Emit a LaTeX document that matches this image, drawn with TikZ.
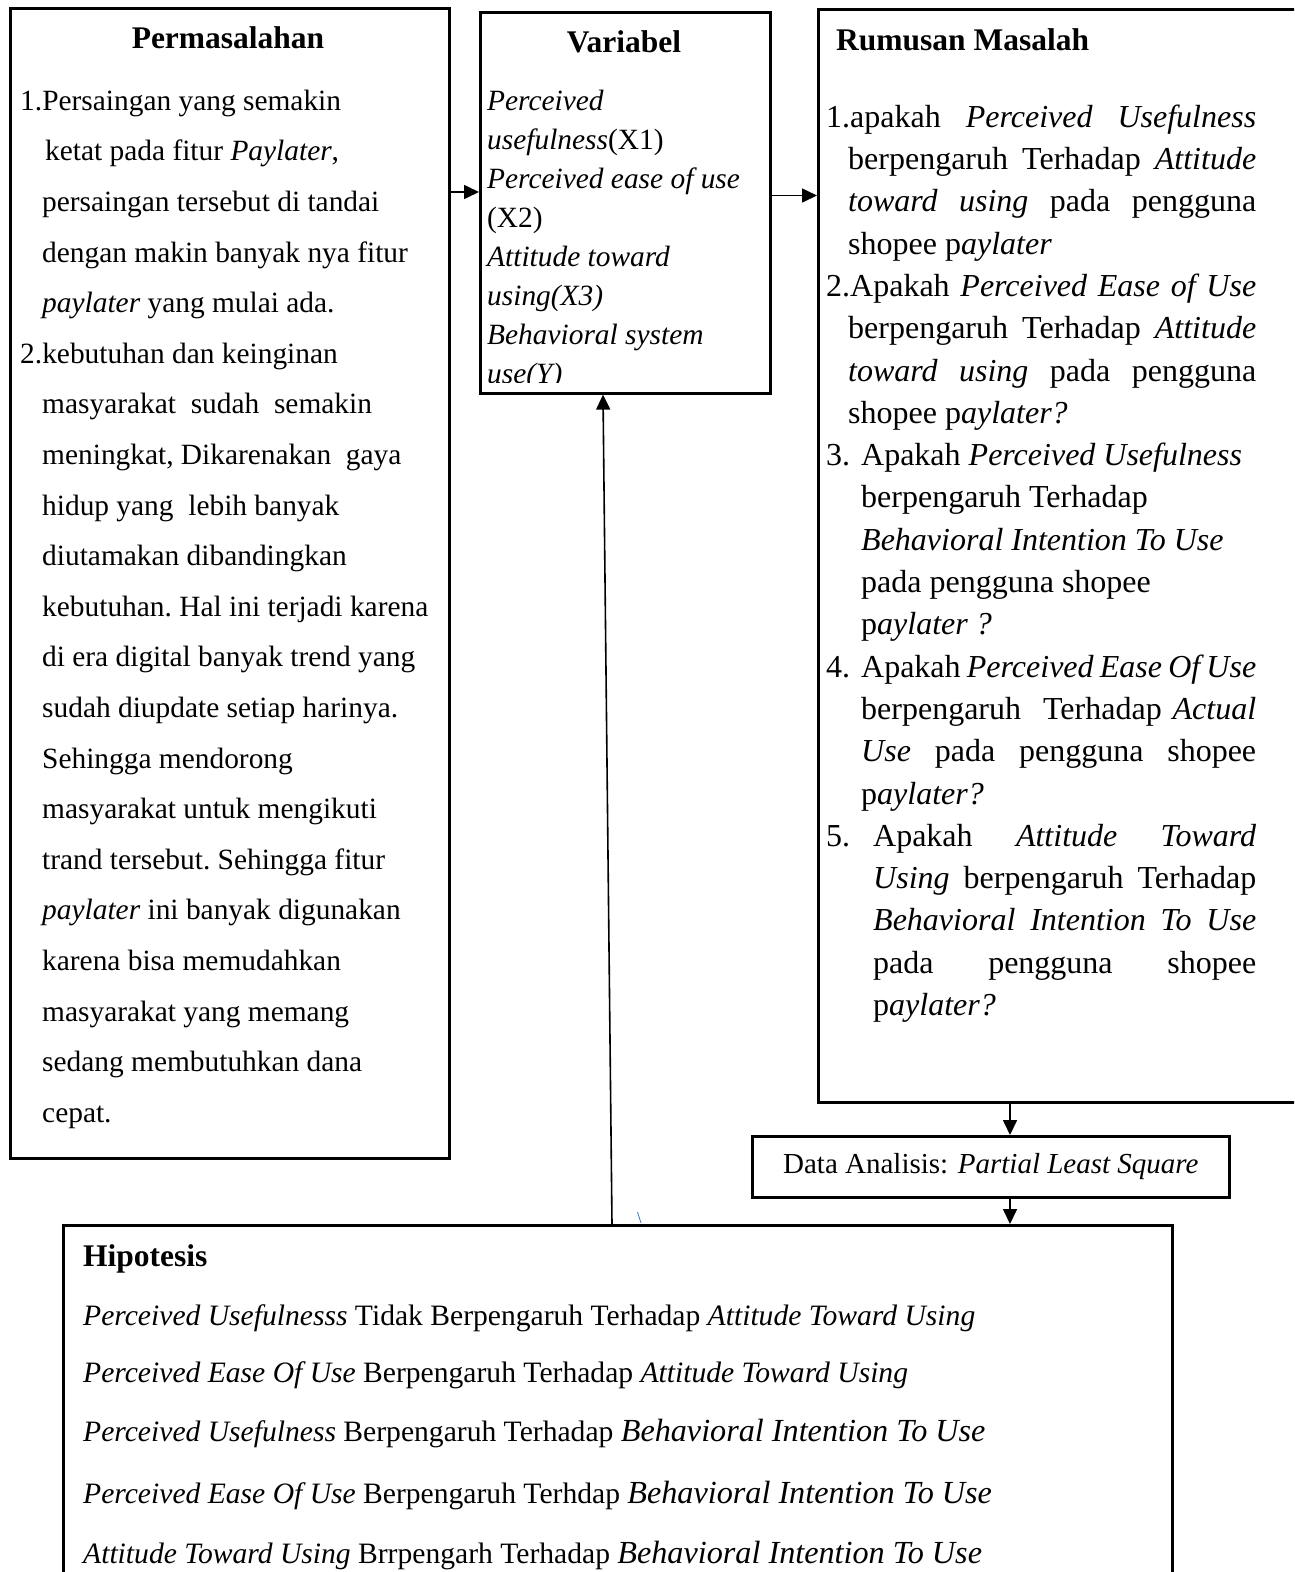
\documentclass[tikz,border=0pt]{standalone}
\usepackage{fontspec}
\setmainfont{Liberation Serif}
\usetikzlibrary{arrows.meta}
\definecolor{tickblue}{RGB}{68,114,196}
\newcommand\ind{\hspace*{22pt}}
\newcommand\lnstart{\parindent=0pt\spaceskip=0pt\xspaceskip=0pt\frenchspacing\rule{0pt}{25pt}}
\newcommand\jus[2]{\hspace*{#1}\makebox[\dimexpr430pt-#1\relax][s]{#2}}
\newcommand\hipbig[1]{{\fontsize{32.2}{57}\selectfont\textit{#1}}}
\begin{document}
\begin{tikzpicture}[x=1pt, y=-1pt,
  font=\fontsize{29}{35}\selectfont,
  frame/.style = {draw, line width=2.6pt, inner sep=0pt, anchor=north west},
  title/.style = {font=\fontsize{31.5}{38}\selectfont\bfseries, inner sep=0pt, anchor=base},
  body/.style = {inner sep=0pt, anchor=north west},
  arr/.style = {line width=1.6pt, -{Triangle[length=15pt, width=14pt]}}]
  \useasboundingbox (0,0) rectangle (1294,1572);
  \clip (0,0) rectangle (1294,1572);
  % boxes
  \node[frame, minimum width=439pt, minimum height=1150pt] (prob) at (9,7) {};
  \node[frame, minimum width=290pt, minimum height=381pt] (var) at (479,11) {};
  \node[frame, minimum width=500pt, minimum height=1093pt] (rum) at (817,8) {};
  \node[frame, minimum width=477pt, minimum height=61pt] (data) at (751,1135)
    {Data Analisis: \textit{Partial Least Square}};
  \node[frame, minimum width=1109pt, minimum height=400pt] (hip) at (62,1224) {};
  % Permasalahan
  \node[title] (probt) at (228,48) {Permasalahan};
  \node[body, text width=420pt, font=\fontsize{29.4}{50.6}\selectfont] (probx) at (20,85) {%
    \lnstart 1.Persaingan yang semakin\\
    \hspace*{25pt}ketat pada fitur \textit{Paylater},\\
    \ind persaingan tersebut di tandai\\
    \ind dengan makin banyak nya fitur\\
    \ind\textit{paylater} yang mulai ada.\\
    2.kebutuhan dan keinginan\\
    \ind masyarakat\ \ sudah\ \ semakin\\
    \ind meningkat, Dikarenakan\ \ gaya\\
    \ind hidup yang\ \ lebih banyak\\
    \ind diutamakan dibandingkan\\
    \ind kebutuhan. Hal ini terjadi karena\\
    \ind di era digital banyak trend yang\\
    \ind sudah diupdate setiap harinya.\\
    \ind Sehingga mendorong\\
    \ind masyarakat untuk mengikuti\\
    \ind trand tersebut. Sehingga fitur\\
    \ind\textit{paylater} ini banyak digunakan\\
    \ind karena bisa memudahkan\\
    \ind masyarakat yang memang\\
    \ind sedang membutuhkan dana\\
    \ind cepat.};
  % Variabel
  \node[title] (vart) at (624,52) {Variabel};
  \begin{scope}
    \clip (479,11) rectangle (770,382);
    \node[body, text width=280pt, font=\fontsize{29.4}{39}\selectfont] (varx) at (487,85.5) {%
      \lnstart\textit{Perceived}\\
      \textit{usefulness}(X1)\\
      \textit{Perceived ease of use}\\
      (X2)\\
      \textit{Attitude toward}\\
      \textit{using(X3)}\\
      \textit{Behavioral system}\\
      \textit{use(Y)}};
  \end{scope}
  % Rumusan Masalah
  \node[title, anchor=base west] (rumt) at (836,50) {Rumusan Masalah};
  \node[body, text width=440pt, font=\fontsize{32}{42.3}\selectfont] (rumx) at (826,102) {%
    \lnstart\jus{0pt}{1.apakah \textit{Perceived Usefulness}}\\
    \jus{22pt}{berpengaruh Terhadap \textit{Attitude}}\\
    \jus{22pt}{\textit{toward using} pada pengguna}\\
    \ind shopee p\textit{aylater}\\
    \jus{0pt}{2.Apakah \textit{Perceived Ease of Use}}\\
    \jus{22pt}{berpengaruh Terhadap \textit{Attitude}}\\
    \jus{22pt}{\textit{toward using} pada pengguna}\\
    \ind shopee p\textit{aylater?}\\
    \makebox[35pt][l]{3.}Apakah \textit{Perceived Usefulness}\\
    \hspace*{35pt}berpengaruh Terhadap\\
    \hspace*{35pt}\textit{Behavioral Intention To Use}\\
    \hspace*{35pt}pada pengguna shopee\\
    \hspace*{35pt}p\textit{aylater ?}\\
    \makebox[35pt][l]{4.}\makebox[395pt][s]{Apakah \textit{Perceived Ease Of Use}}\\
    \jus{35pt}{berpengaruh\ \ Terhadap \textit{Actual}}\\
    \jus{35pt}{\textit{Use} pada pengguna shopee}\\
    \hspace*{35pt}p\textit{aylater?}\\
    \makebox[47pt][l]{5.}\makebox[383pt][s]{Apakah \textit{Attitude Toward}}\\
    \jus{47pt}{\textit{Using} berpengaruh Terhadap}\\
    \jus{47pt}{\textit{Behavioral Intention To Use}}\\
    \jus{47pt}{pada pengguna shopee}\\
    \hspace*{47pt}p\textit{aylater?}};
  % Hipotesis
  \node[title, anchor=base west] (hipt) at (83,1266) {Hipotesis};
  \node[body, text width=1080pt, font=\fontsize{29.6}{57}\selectfont] (hipx) at (83,1300) {%
    \lnstart\textit{Perceived Usefulnesss} Tidak Berpengaruh Terhadap \textit{Attitude Toward Using}\\
    \textit{Perceived Ease Of Use} Berpengaruh Terhadap \textit{Attitude Toward Using}\\[2pt]
    \textit{Perceived Usefulness} Berpengaruh Terhadap \hipbig{Behavioral Intention To Use}\\[5pt]
    \textit{Perceived Ease Of Use} Berpengaruh Terhdap \hipbig{Behavioral Intention To Use}\\[3pt]
    \textit{Attitude Toward Using} Brrpengarh Terhadap \hipbig{Behavioral Intention To Use}};
  % connectors
  \coordinate (a1) at ([yshift=-185pt]prob.north east);
  \draw[arr] (a1) -- (a1 -| var.west);
  \coordinate (a2) at ([yshift=-184.5pt]var.north east);
  \draw[arr] (a2) -- (a2 -| rum.west);
  \coordinate (dtop) at ([xshift=259pt]data.north west);
  \draw[arr] (dtop |- rum.south) -- (dtop);
  \draw[arr] (dtop |- data.south) -- (dtop |- hip.north);
  \draw[arr] ([xshift=550pt]hip.north west) -- ([xshift=124pt]var.south west);
  \draw[tickblue, line width=0.8pt] (637.5,1212) -- (641,1223);
\end{tikzpicture}
\end{document}
